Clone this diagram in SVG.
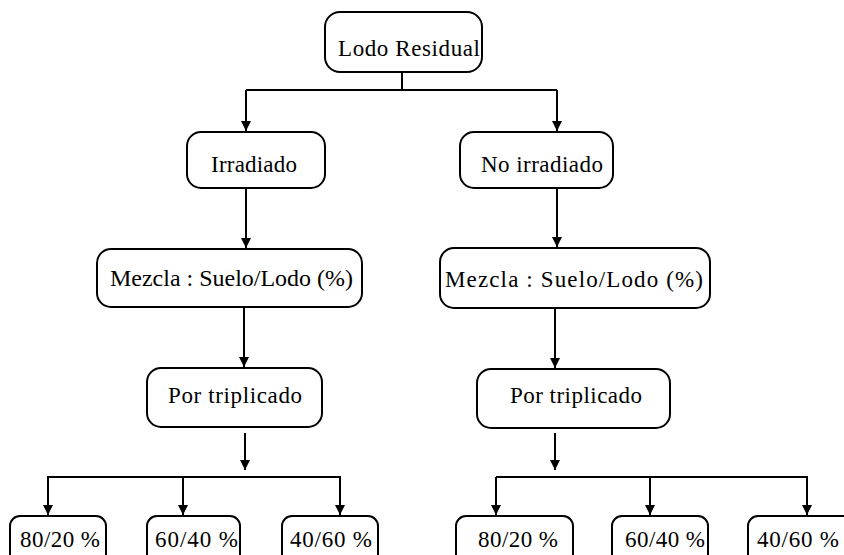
<svg xmlns="http://www.w3.org/2000/svg" width="844" height="555" viewBox="0 0 844 555">
<style>
.box{fill:#fff;stroke:#000;stroke-width:2}
.t{font-family:"Liberation Serif","Times New Roman",serif;font-size:23px;fill:#000}
.c{fill:none;stroke:#000;stroke-width:2}
</style>
<defs>
<marker id="ah" viewBox="0 0 10 10" refX="10" refY="5" markerWidth="10" markerHeight="10" markerUnits="userSpaceOnUse" orient="auto">
<path d="M0,0 L10,5 L0,10 Z" fill="#000"/>
</marker>
</defs>
<rect width="844" height="555" fill="#fff"/>
<g id="connectors">
<path class="c" d="M402,72 V90"/>
<path class="c" d="M246,90 H557"/>
<path class="c" d="M246,90 V131" marker-end="url(#ah)"/>
<path class="c" d="M557,90 V131" marker-end="url(#ah)"/>
<path class="c" d="M246,188 V248" marker-end="url(#ah)"/>
<path class="c" d="M557,188 V247" marker-end="url(#ah)"/>
<path class="c" d="M244,307 V367" marker-end="url(#ah)"/>
<path class="c" d="M555,308 V368" marker-end="url(#ah)"/>
<path class="c" d="M245,433 V470" marker-end="url(#ah)"/>
<path class="c" d="M555,433 V470" marker-end="url(#ah)"/>
<path class="c" d="M48,515 V477 H340 V515" marker-end="url(#ah)"/>
<path class="c" d="M48,477 V515" marker-end="url(#ah)"/>
<path class="c" d="M183,477 V515" marker-end="url(#ah)"/>
<path class="c" d="M496,477 H807 V515" marker-end="url(#ah)"/>
<path class="c" d="M496,477 V515" marker-end="url(#ah)"/>
<path class="c" d="M650,477 V515" marker-end="url(#ah)"/>
</g>
<g id="lodo">
<rect class="box" x="325" y="12" width="157" height="60" rx="15"/>
<text class="t" x="338" y="56" textLength="142" lengthAdjust="spacing">Lodo Residual</text>
</g>
<g id="irradiado">
<rect class="box" x="187" y="132" width="138" height="56" rx="14"/>
<text class="t" x="211" y="172" textLength="86" lengthAdjust="spacing">Irradiado</text>
</g>
<g id="no-irradiado">
<rect class="box" x="460" y="132" width="153" height="56" rx="14"/>
<text class="t" x="481" y="172" textLength="122" lengthAdjust="spacing">No irradiado</text>
</g>
<g id="mezcla-1">
<rect class="box" x="97" y="249" width="265" height="58" rx="14"/>
<text class="t" x="110" y="286" textLength="243" lengthAdjust="spacingAndGlyphs">Mezcla : Suelo/Lodo (%)</text>
</g>
<g id="mezcla-2">
<rect class="box" x="440" y="248" width="270" height="60" rx="14"/>
<text class="t" x="445" y="287" textLength="258" lengthAdjust="spacing">Mezcla : Suelo/Lodo (%)</text>
</g>
<g id="triplicado-1">
<rect class="box" x="147" y="368" width="175" height="59" rx="14"/>
<text class="t" x="168" y="403" textLength="134" lengthAdjust="spacing">Por triplicado</text>
</g>
<g id="triplicado-2">
<rect class="box" x="477" y="369" width="193" height="59" rx="14"/>
<text class="t" x="510" y="403" textLength="132" lengthAdjust="spacing">Por triplicado</text>
</g>
<g id="l-80-20">
<rect class="box" x="10" y="516" width="96" height="60" rx="10"/>
<text class="t" x="20" y="547" textLength="80" lengthAdjust="spacing">80/20 %</text>
</g>
<g id="l-60-40">
<rect class="box" x="147" y="516" width="93" height="60" rx="10"/>
<text class="t" x="155" y="547" textLength="83" lengthAdjust="spacing">60/40 %</text>
</g>
<g id="l-40-60">
<rect class="box" x="282" y="516" width="96" height="60" rx="10"/>
<text class="t" x="290" y="547" textLength="82" lengthAdjust="spacing">40/60 %</text>
</g>
<g id="r-80-20">
<rect class="box" x="456" y="516" width="117" height="60" rx="10"/>
<text class="t" x="478" y="547" textLength="80" lengthAdjust="spacing">80/20 %</text>
</g>
<g id="r-60-40">
<rect class="box" x="612" y="516" width="96" height="60" rx="10"/>
<text class="t" x="625" y="547" textLength="80" lengthAdjust="spacing">60/40 %</text>
</g>
<g id="r-40-60">
<rect class="box" x="748" y="516" width="110" height="60" rx="10"/>
<text class="t" x="757" y="547" textLength="82" lengthAdjust="spacing">40/60 %</text>
</g>
</svg>
